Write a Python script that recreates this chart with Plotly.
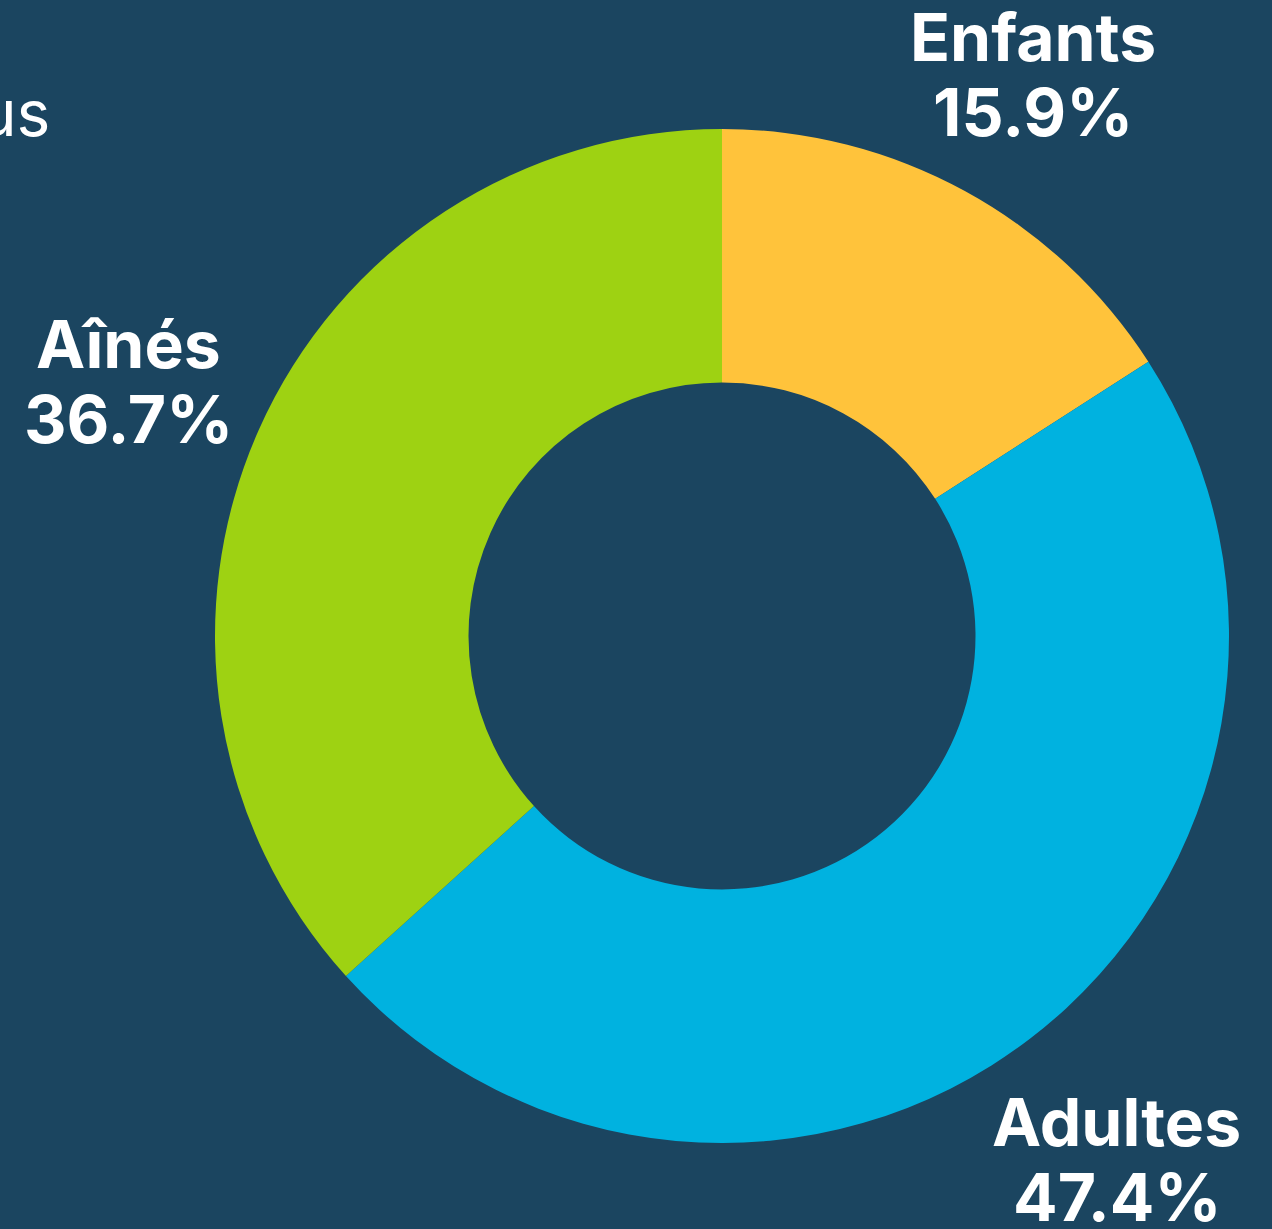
import math

import plotly.graph_objects as go

groups = ["Enfants", "Adultes", "Aînés"]
shares = [15.9, 47.4, 36.7]
colors = ["#FFC33B", "#00B2E0", "#9ED212"]

BG = "#1B4560"
FONT = "Inter, Roboto, sans-serif"
LABEL_RADIUS = 0.64  # paper units, outer ring radius is 0.5

fig = go.Figure()
fig.add_trace(
    go.Pie(
        labels=groups,
        values=shares,
        hole=0.5,
        sort=False,
        direction="clockwise",
        rotation=0,
        marker={"colors": colors, "line": {"width": 0}},
        textinfo="none",
        showlegend=False,
        hoverinfo="label+percent",
        domain={"x": [0, 1], "y": [0, 1]},
    )
)

# outside labels placed along each slice's mid angle
total = sum(shares)
start = 0.0
for name, value in zip(groups, shares):
    mid = (start + value / 2) / total * 2 * math.pi
    start += value
    x = 0.5 + LABEL_RADIUS * math.sin(mid)
    y = 0.5 + LABEL_RADIUS * math.cos(mid)
    for text, shift in ((name, 29), (f"{value:.1f}%", -46)):
        fig.add_annotation(
            text=f"<b>{text}</b>", xref="paper", yref="paper", x=x, y=y,
            yshift=shift, xanchor="center", yanchor="middle", showarrow=False,
            font={"family": FONT, "size": 66, "color": "white"},
        )

fig.add_annotation(
    text="Tous", xref="paper", yref="paper", x=-0.1607, y=1.016,
    xanchor="right", yanchor="middle", showarrow=False,
    font={"family": FONT, "size": 64, "color": "white"},
)
fig.update_layout(
    width=1272,
    height=1229,
    paper_bgcolor=BG,
    plot_bgcolor=BG,
    margin={"l": 215, "r": 43, "t": 129, "b": 86},
)
fig.write_html(
    "out.html",
    config={"displayModeBar": False},
    post_script="document.body.style.margin='0';document.body.style.background='" + BG + "';",
)
